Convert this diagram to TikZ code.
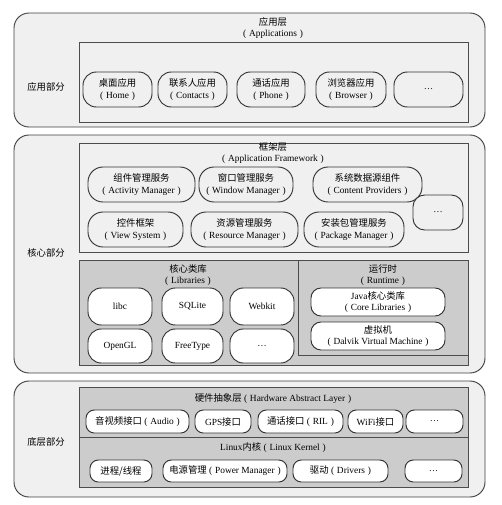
\documentclass[tikz,border=0pt]{standalone}
\usepackage{fontspec}
\setmainfont{Liberation Serif}
\newfontfamily\cjk{Noto Sans CJK SC}
\newcommand{\zh}[1]{{\cjk #1}}
\newcommand{\pp}[1]{(\hspace{0.3em}#1\hspace{0.3em})}
\usetikzlibrary{fit}

\begin{document}
\begin{tikzpicture}[x=0.03cm,y=-0.03cm,font=\fontsize{8}{10}\selectfont,
  part/.style={draw=black!75,thick,rounded corners=0.45cm,fill=black!6,inner sep=0pt},
  layer/.style={draw=black!70,thick,fill=black!6,inner sep=0pt},
  darklayer/.style={draw=black!70,thick,fill=black!20,inner sep=0pt},
  pill/.style={draw=black!80,thick,rounded corners=0.45cm,fill=black!6,inner sep=0pt},
  wpill/.style={pill,fill=white,rounded corners=0.4cm},
  hpill/.style={pill,fill=white,rounded corners=0.25cm},
  title/.style={align=center,inner sep=0pt},
  txt/.style={label={[title]center:{#1}}}]
\useasboundingbox (0,0) rectangle (501,505);
% three parts
\node[part,fit={(14,13) (485,127)}] (appPart) {};
\node[part,fit={(14,135) (485,373)}] (corePart) {};
\node[part,fit={(14,381) (485,497)}] (basePart) {};
\node[title] (appLbl) at (46,87) {\zh{应用部分}};
\node[title] (coreLbl) at (46,253) {\zh{核心部分}};
\node[title] (baseLbl) at (46,442) {\zh{底层部分}};
% applications
\node[title] (appTitle) at (273,28) {\zh{应用层}\\\pp{Applications}};
\node[layer,fit={(79,42) (468,122)}] (appLayer) {};
\foreach \n/\xa/\xb/\t in {home/83/152/{\zh{桌面应用}\\\pp{Home}},contacts/158/227/{\zh{联系人应用}\\\pp{Contacts}},phone/237/305/{\zh{通话应用}\\\pp{Phone}},browser/316/386/{\zh{浏览器应用}\\\pp{Browser}},appMore/394/463/\ldots}
  \node[pill,rounded corners=0.4cm,fit={(\xa,72) (\xb,107)},txt=\t] (\n) {};
% framework
\node[layer,fit={(79,143) (468,252)}] (fw) {};
\node[title] (fwTitle) at (273,153) {\zh{框架层}\\\pp{Application Framework}};
\node[pill,fit={(88,167) (195,202)},txt={\zh{组件管理服务}\\\pp{Activity Manager}}] (activity) {};
\node[pill,fit={(199,167) (293,202)},txt={\zh{窗口管理服务}\\\pp{Window Manager}}] (window) {};
\node[pill,fit={(313,167) (422,202)},txt={\zh{系统数据源组件}\\\pp{Content Providers}}] (content) {};
\node[pill,fit={(88,212) (183,247)},txt={\zh{控件框架}\\\pp{View System}}] (view) {};
\node[pill,fit={(191,212) (298,247)},txt={\zh{资源管理服务}\\\pp{Resource Manager}}] (resource) {};
\node[pill,fit={(304,212) (404,247)},txt={\zh{安装包管理服务}\\\pp{Package Manager}}] (package) {};
\node[pill,rounded corners=0.35cm,fit={(413,195) (463,230)},txt=\ldots] (fwMore) {};
% libraries and runtime
\node[darklayer,fit={(79,260) (468,365)}] (libs) {};
\node[darklayer,fit={(298,260) (468,355)}] (rt) {};
\node[title] (libTitle) at (188,275) {\zh{核心类库}\\\pp{Libraries}};
\node[title] (rtTitle) at (383,275) {\zh{运行时}\\\pp{Runtime}};
\foreach \n/\xa/\xb/\t in {libc/88/152/libc,sqlite/162/223/SQLite,webkit/230/294/Webkit}
  \node[wpill,fit={(\xa,288) (\xb,325)},txt=\t] (\n) {};
\foreach \n/\xa/\xb/\t in {opengl/88/152/OpenGL,freetype/162/223/FreeType,libMore/230/294/\ldots}
  \node[wpill,fit={(\xa,329) (\xb,363)},txt=\t] (\n) {};
\node[wpill,rounded corners=0.3cm,fit={(311,288) (445,316)},txt={Java\zh{核心类库}\\\pp{Core Libraries}}] (core) {};
\node[wpill,rounded corners=0.3cm,fit={(311,322) (445,350)},txt={\zh{虚拟机}\\\pp{Dalvik Virtual Machine}}] (dalvik) {};
% hardware abstraction and kernel
\node[darklayer,fit={(79,387) (468,437)}] (hal) {};
\node[darklayer,fit={(79,437) (468,487)}] (kernel) {};
\node[title] (halTitle) at (273,399) {\zh{硬件抽象层}\ \pp{Hardware Abstract Layer}};
\node[title] (kernelTitle) at (273,448) {Linux\zh{内核}\ \pp{Linux Kernel}};
\node[hpill,fit={(86,410) (189,433)},txt={\zh{音视频接口}\ \pp{Audio}}] (audio) {};
\node[hpill,fit={(195,410) (251,433)},txt={GPS\zh{接口}}] (gps) {};
\node[hpill,fit={(258,410) (343,433)},txt={\zh{通话接口}\ \pp{RIL}}] (ril) {};
\node[hpill,fit={(348,410) (403,433)},txt={WiFi\zh{接口}}] (wifi) {};
\node[hpill,fit={(406,410) (463,433)},txt=\ldots] (halMore) {};
\node[hpill,fit={(90,460) (152,482)},txt={\zh{进程/线程}}] (proc) {};
\node[hpill,fit={(163,460) (287,482)},txt={\zh{电源管理}\ \pp{Power Manager}}] (power) {};
\node[hpill,fit={(293,460) (388,482)},txt={\zh{驱动}\ \pp{Drivers}}] (drivers) {};
\node[hpill,fit={(405,460) (462,482)},txt=\ldots] (kernelMore) {};
\end{tikzpicture}
\end{document}
